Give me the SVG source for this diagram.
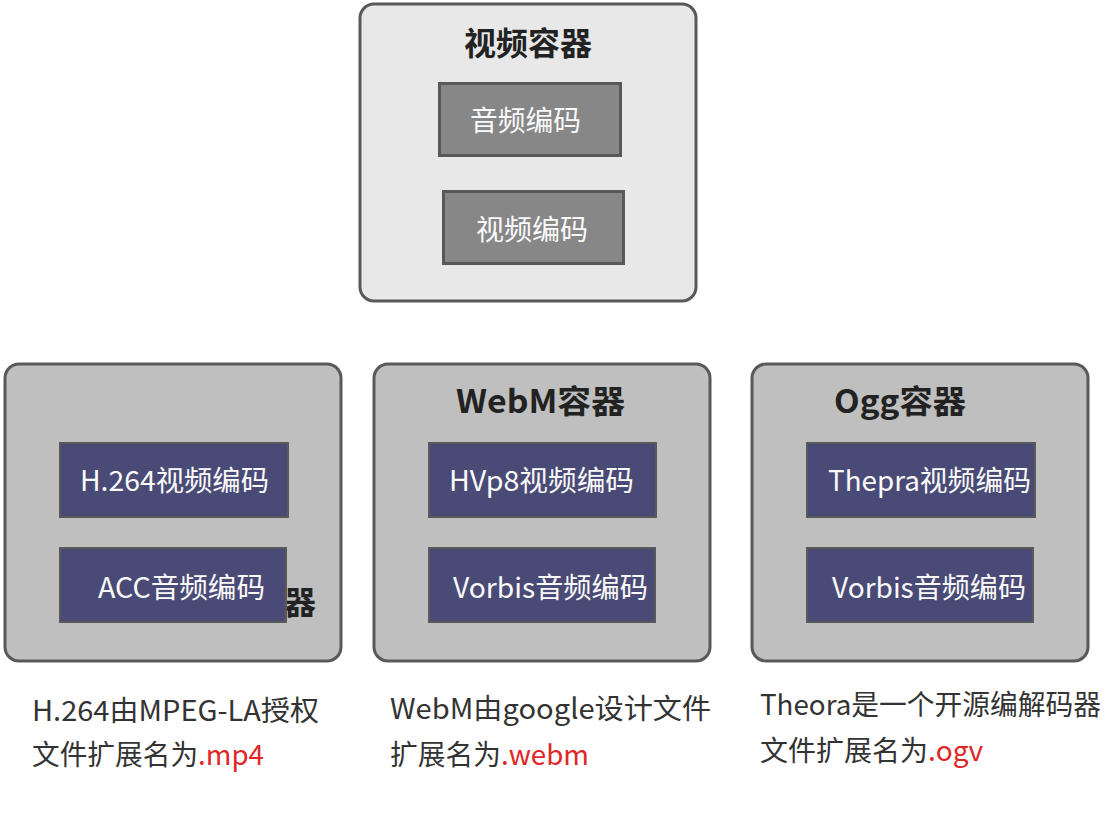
<svg xmlns="http://www.w3.org/2000/svg" width="1114" height="839" viewBox="0 0 1114 839">
<style>
text{font-family:"Noto Sans CJK SC","Noto Sans",sans-serif}
.outer{stroke:#595959;stroke-width:3}
.top{fill:#e8e8e8}
.box{fill:#bfbfbf}
.grey{fill:#878787;stroke:#595959;stroke-width:3}
.blue{fill:#4a4a76;stroke:#595959;stroke-width:2}
.title{font-size:32px;font-weight:bold;fill:#222}
.inner{font-size:28px;fill:#fafafa}
.cap{font-size:28px;fill:#333}
.ext{fill:#e02626}
</style>
<rect width="1114" height="839" fill="#ffffff"/>
<g id="video-container">
<rect class="outer top" x="360" y="4" width="336" height="297" rx="14"/>
<text class="title" x="464" y="55" textLength="128" lengthAdjust="spacingAndGlyphs">视频容器</text>
</g>
<g id="audio-codec">
<rect class="grey" x="439.5" y="83.5" width="181" height="72"/>
<text class="inner" x="470" y="131" textLength="111" lengthAdjust="spacingAndGlyphs">音频编码</text>
</g>
<g id="video-codec">
<rect class="grey" x="443.5" y="191.5" width="180" height="72"/>
<text class="inner" x="476" y="240" textLength="112" lengthAdjust="spacingAndGlyphs">视频编码</text>
</g>
<g id="mp4-container">
<rect class="outer box" x="5" y="364" width="336" height="297" rx="14"/>
<text class="title" x="284" y="614">器</text>
</g>
<g id="h264">
<rect class="blue" x="60" y="443" width="228" height="74"/>
<text class="inner" x="80" y="491" textLength="189" lengthAdjust="spacingAndGlyphs">H.264视频编码</text>
</g>
<g id="acc">
<rect class="blue" x="60" y="548" width="226" height="74"/>
<text class="inner" x="98" y="598" textLength="167" lengthAdjust="spacingAndGlyphs">ACC音频编码</text>
</g>
<g id="webm-container">
<rect class="outer box" x="374" y="364" width="336" height="297" rx="14"/>
<text class="title" x="456" y="413" textLength="169" lengthAdjust="spacingAndGlyphs">WebM容器</text>
</g>
<g id="vp8">
<rect class="blue" x="429" y="443" width="227" height="74"/>
<text class="inner" x="449" y="491" textLength="185" lengthAdjust="spacingAndGlyphs">HVp8视频编码</text>
</g>
<g id="webm-vorbis">
<rect class="blue" x="429" y="548" width="226" height="74"/>
<text class="inner" x="453" y="598" textLength="195" lengthAdjust="spacingAndGlyphs">Vorbis音频编码</text>
</g>
<g id="ogg-container">
<rect class="outer box" x="752" y="364" width="336" height="297" rx="14"/>
<text class="title" x="834" y="413" textLength="132" lengthAdjust="spacingAndGlyphs">Ogg容器</text>
</g>
<g id="theora">
<rect class="blue" x="807" y="443" width="228" height="74"/>
<text class="inner" x="828" y="491" textLength="203" lengthAdjust="spacingAndGlyphs">Thepra视频编码</text>
</g>
<g id="ogg-vorbis">
<rect class="blue" x="807" y="548" width="226" height="74"/>
<text class="inner" x="832" y="598" textLength="194" lengthAdjust="spacingAndGlyphs">Vorbis音频编码</text>
</g>
<g id="captions">
<text class="cap" x="32" y="721" textLength="287" lengthAdjust="spacingAndGlyphs">H.264由MPEG-LA授权</text>
<text class="cap" x="32" y="765" textLength="232" lengthAdjust="spacingAndGlyphs">文件扩展名为<tspan class="ext">.mp4</tspan></text>
<text class="cap" x="390" y="719" textLength="321" lengthAdjust="spacingAndGlyphs">WebM由google设计文件</text>
<text class="cap" x="390" y="765" textLength="199" lengthAdjust="spacingAndGlyphs">扩展名为<tspan class="ext">.webm</tspan></text>
<text class="cap" x="760" y="715" textLength="341" lengthAdjust="spacingAndGlyphs">Theora是一个开源编解码器</text>
<text class="cap" x="760" y="761" textLength="223" lengthAdjust="spacingAndGlyphs">文件扩展名为<tspan class="ext">.ogv</tspan></text>
</g>
<g id="connectors"></g>
</svg>
